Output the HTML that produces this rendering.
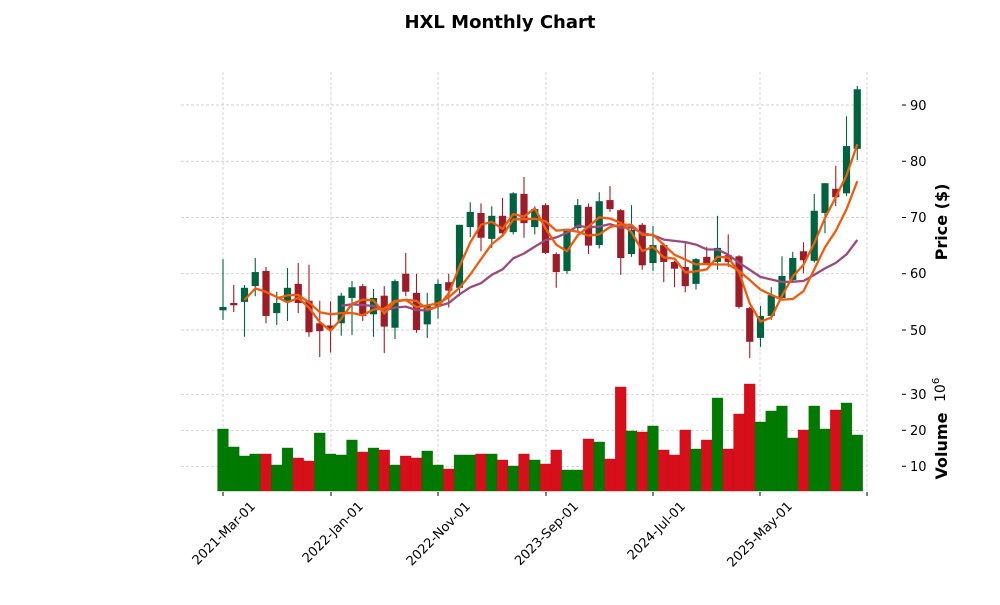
<!DOCTYPE html>
<html><head><meta charset="utf-8"><style>
body{margin:0;background:#fff;}
svg text{font-family:"DejaVu Sans","Liberation Sans",sans-serif;}
</style></head><body>
<svg id="s" width="1000" height="600" xmlns="http://www.w3.org/2000/svg">
<rect width="1000" height="600" fill="#fff"/>
<text x="500" y="28" text-anchor="middle" font-size="18" font-weight="bold">HXL Monthly Chart</text>
<g id="grid"></g>
<g id="vol"></g>
<g id="cand"></g>
<g id="ma"></g>
<g font-size="13" fill="#000">
<text x="910" y="110">90</text>
<text x="910" y="166">80</text>
<text x="910" y="222">70</text>
<text x="910" y="278">60</text>
<text x="910" y="335">50</text>
<text x="910" y="399">30</text>
<text x="910" y="435">20</text>
<text x="910" y="471">10</text>
</g>
<text transform="translate(947,222) rotate(-90)" text-anchor="middle" font-size="16" font-weight="bold">Price ($)</text>
<text transform="translate(947,446) rotate(-90)" text-anchor="middle" font-size="16" font-weight="bold">Volume</text>
<text transform="translate(945,402) rotate(-90)" font-size="14">10<tspan dy="-6" font-size="10">6</tspan></text>
<g font-size="13" id="xl"></g>
</svg>
<script>
var D=[[53.5,62.6,51.8,54.1],[54.8,58,53.2,54.4],[55,58,48.8,57.5],[57.8,62.8,56,60.3],[60.5,61.2,51.2,52.5],[53,56.8,50.9,54.8],[55,61,51.6,57.5],[58.2,61.9,53,54.8],[55.2,61.6,48.8,49.6],[51.2,55.2,45.2,49.8],[50.8,55.1,46,50.2],[51.2,56.6,49,56.1],[55.7,58.7,49.1,57.6],[57.8,58.2,51.6,52.5],[52.8,57.3,48.8,55.7],[56.1,57.8,45.9,50.6],[50.4,59,48.4,58.7],[60,63.7,56,56.8],[56.6,60,49.5,50],[51,56.6,48.6,54.3],[54.3,59,52,58.2],[58.5,60,54,57],[57.5,68.7,56,68.7],[68.3,72.7,66.5,71],[70.8,72.5,64,66.4],[66.2,72,64.6,70.3],[70.3,73.5,67,67.2],[67.4,74.5,67,74.3],[74.2,77.2,66.4,69],[68.3,72,67,71.5],[72.2,72.5,63.5,63.7],[63.5,63.8,57.5,60.3],[60.5,68,60,68],[68.1,73.3,67.5,72.2],[71.9,72.5,63.5,65],[65.1,74.5,64.5,72.9],[73.1,75.6,71,71.5],[71.3,71.5,59.8,62.8],[63.5,72.2,63,67.8],[68.7,69,60.7,61.5],[61.9,68.5,60.5,65.1],[65.1,65.5,58.5,62.1],[62.1,62.3,57.6,60.9],[61.2,65.6,56.7,57.8],[58.2,62.8,57.2,62.6],[63,64.8,61.5,61.9],[62.1,70.3,60.7,64.6],[63.3,67,61.2,62.1],[63.1,63.3,53.8,54.1],[53.9,54.1,45,47.9],[48.6,54.3,47,52.5],[52.5,57.6,51.8,56.2],[55.7,63.1,55.2,59.6],[58.9,63.9,58.5,62.8],[64,65.6,60.1,62.4],[62.3,74.2,62,71.2],[70.8,76.1,67.2,76.1],[75.1,79.2,72,73.6],[74.3,88,73.8,82.7],[82.2,93.4,80.2,92.8]];
var V=[[429,1],[447,1],[456,1],[454,1],[454,0],[465,1],[448,1],[458,0],[461,0],[433,1],[454,1],[455,1],[440,1],[452,0],[448,1],[450,0],[465,1],[456,0],[458,0],[451,1],[465,1],[469,0],[455,1],[455,1],[454,0],[454,1],[460,0],[466,1],[454,0],[460,1],[464,0],[450,0],[470,1],[470,1],[439,0],[442,1],[459,0],[387,0],[431,1],[432,0],[426,1],[450,0],[455,0],[430,0],[449,1],[440,0],[398,1],[449,0],[414,0],[384,0],[422,1],[411,1],[406,1],[438,1],[430,0],[406,1],[429,1],[410,0],[403,1],[435,1]];
function X(i){return 223+10.75*i;}
function Y(p){return 105+(90-p)*5.625;}
var h='';
var gx=[223,331,438,546,653,760,867];
gx.forEach(function(x){h+='<line x1="'+x+'" y1="72" x2="'+x+'" y2="370" stroke="#c4c4c4" stroke-width="0.7" stroke-dasharray="3,2"/>';
h+='<line x1="'+x+'" y1="374" x2="'+x+'" y2="491" stroke="#c4c4c4" stroke-width="0.7" stroke-dasharray="3,2"/>';
h+='<line x1="'+x+'" y1="492" x2="'+x+'" y2="496" stroke="#000" stroke-width="1"/>';});
[90,80,70,60,50].forEach(function(p){var y=Y(p);h+='<line x1="181" y1="'+y+'" x2="867" y2="'+y+'" stroke="#c4c4c4" stroke-width="0.7" stroke-dasharray="3,2"/><line x1="902" y1="'+y+'" x2="906" y2="'+y+'" stroke="#000"/>';});
[394.3,430.3,466.3].forEach(function(y){h+='<line x1="181" y1="'+y+'" x2="867" y2="'+y+'" stroke="#c4c4c4" stroke-width="0.7" stroke-dasharray="3,2"/><line x1="902" y1="'+y+'" x2="906" y2="'+y+'" stroke="#000"/>';});
document.getElementById('grid').innerHTML=h;
h='';
V.forEach(function(v,i){var x=217.6+10.75*i;h+='<rect x="'+x+'" y="'+v[0]+'" width="10.75" height="'+(491-v[0])+'" fill="'+(v[1]?'#007a00':'#d60f1b')+'" stroke="'+(v[1]?'#006e00':'#c20e18')+'" stroke-width="0.4"/>';});
document.getElementById('vol').innerHTML=h;
h='';
D.forEach(function(d,i){var x=X(i),up=d[3]>=d[0],c=up?'#006340':'#9e1c27';var t=Y(Math.max(d[0],d[3])),b=Y(Math.min(d[0],d[3]));
h+='<line x1="'+x+'" y1="'+Y(d[1])+'" x2="'+x+'" y2="'+Y(d[2])+'" stroke="'+c+'" stroke-width="1.1"/>';
h+='<rect x="'+(x-3.6)+'" y="'+t+'" width="7.2" height="'+Math.max(b-t,1.2)+'" fill="'+c+'"/>';});
document.getElementById('cand').innerHTML=h;
h='';
function ma(n,col){var pts=[];for(var i=n-1;i<D.length;i++){var s=0;for(var j=i-n+1;j<=i;j++)s+=D[j][3];pts.push(X(i).toFixed(1)+','+Y(s/n).toFixed(1));}
return '<polyline points="'+pts.join(' ')+'" fill="none" stroke="'+col+'" stroke-width="2.3" stroke-linejoin="round"/>';}
h+=ma(12,'#9c4a7d')+ma(6,'#f25a0c')+ma(3,'#f25a0c');
document.getElementById('ma').innerHTML=h;
h='';
var L=['2021-Mar-01','2022-Jan-01','2022-Nov-01','2023-Sep-01','2024-Jul-01','2025-May-01'];
L.forEach(function(t,i){var x=gx[i]+33,y=507;h+='<text transform="translate('+x+','+y+') rotate(-45)" text-anchor="end">'+t+'</text>';});
document.getElementById('xl').innerHTML=h;
</script>
</body></html>
